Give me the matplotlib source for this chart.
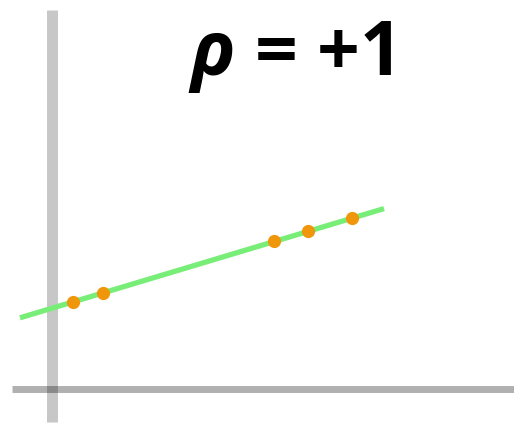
import matplotlib
matplotlib.use("Agg")
import matplotlib.pyplot as plt

# Sample points, all on one straight line (perfect positive correlation)
x_pts = [0.53, 1.28, 5.55, 6.4, 7.5]
y_pts = [2.18, 2.41, 3.69, 3.94, 4.27]

# Ends of the fitted line
line_x = [-0.8, 8.3]
line_y = [1.78, 4.51]

plt.rcParams["mathtext.fontset"] = "custom"
plt.rcParams["mathtext.it"] = "Open Sans:bold:italic"

fig = plt.figure(figsize=(5.14, 4.25), dpi=100)
ax = fig.add_axes([0, 0, 1, 1])
ax.set_xlim(-1.3, 11.55)
ax.set_ylim(-0.9, 9.725)
ax.axis("off")

# Hand-drawn style axes
ax.plot([0, 0], [-0.83, 9.48], color="black", alpha=0.22, lw=7.9,
        solid_capstyle="butt")
ax.plot([-1.0, 11.6], [0, 0], color="black", alpha=0.31, lw=5.0,
        solid_capstyle="butt")

ax.plot(line_x, line_y, color="#78ee78", lw=3.8, solid_capstyle="butt", zorder=3)
ax.plot(x_pts, y_pts, "o", color="#f0960a", ms=9.5, mec="none", zorder=4)

ax.text(0.565, 0.865, r"$\rho$ = +1", transform=ax.transAxes, ha="center",
        va="center", fontsize=54, fontweight="bold", family="Open Sans")

fig.savefig("out.png", dpi=100)
